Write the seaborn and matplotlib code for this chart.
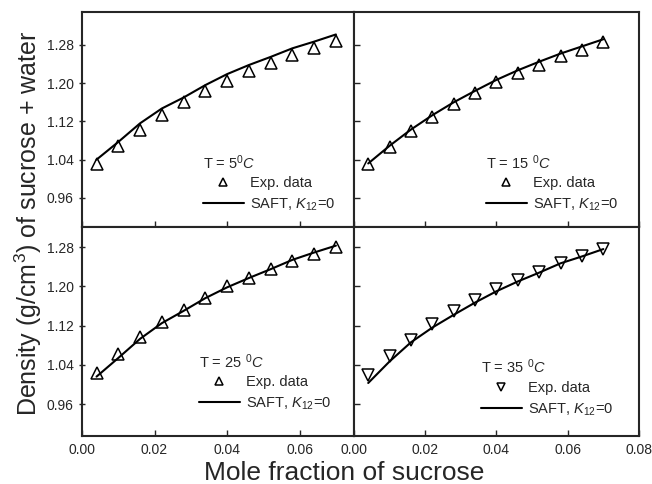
import matplotlib
matplotlib.use('Agg')
import matplotlib.pyplot as plt
import seaborn as sns

# mole fraction of sucrose (same grid in every panel)
x_frac = [0.004, 0.010, 0.016, 0.022, 0.028, 0.034, 0.040, 0.046, 0.052, 0.058, 0.064, 0.070]

# T = 5 C
exp_5 = [1.030, 1.068, 1.103, 1.133, 1.160, 1.184, 1.205, 1.225, 1.243, 1.260, 1.274, 1.289]
saft_5 = [1.040, 1.077, 1.116, 1.147, 1.170, 1.196, 1.219, 1.238, 1.255, 1.273, 1.287, 1.302]
# T = 15 C
exp_15 = [1.030, 1.067, 1.100, 1.130, 1.156, 1.180, 1.203, 1.222, 1.238, 1.256, 1.270, 1.286]
saft_15 = [1.032, 1.069, 1.103, 1.133, 1.160, 1.184, 1.207, 1.227, 1.245, 1.262, 1.277, 1.292]
# T = 25 C
exp_25 = [1.024, 1.063, 1.097, 1.128, 1.152, 1.177, 1.200, 1.218, 1.235, 1.252, 1.266, 1.281]
saft_25 = [1.016, 1.054, 1.093, 1.125, 1.150, 1.176, 1.198, 1.217, 1.235, 1.254, 1.269, 1.283]
# T = 35 C
exp_35 = [1.020, 1.059, 1.091, 1.123, 1.149, 1.173, 1.194, 1.213, 1.230, 1.247, 1.262, 1.276]
saft_35 = [1.003, 1.047, 1.086, 1.116, 1.142, 1.167, 1.190, 1.210, 1.228, 1.247, 1.261, 1.276]

titles = ['T = 5$^0$$\\mathit{C}$', 'T = 15 $^0$$\\mathit{C}$',
          'T = 25 $^0$$\\mathit{C}$', 'T = 35 $^0$$\\mathit{C}$']
y_ticks = [0.96, 1.04, 1.12, 1.20, 1.28]

sns.set_theme(style='ticks')
plt.rcParams['font.family'] = ['Liberation Sans', 'DejaVu Sans']
plt.rcParams['mathtext.fontset'] = 'custom'
plt.rcParams['mathtext.rm'] = 'Liberation Sans'
plt.rcParams['mathtext.it'] = 'Liberation Sans:italic'

fig = plt.figure(figsize=(6.52, 4.84), dpi=100)
ax_tl = fig.add_axes([0.1258, 0.531, 0.4172, 0.4442])
ax_tr = fig.add_axes([0.5429, 0.531, 0.4371, 0.4442])
ax_bl = fig.add_axes([0.1258, 0.0992, 0.4172, 0.4318])
ax_br = fig.add_axes([0.5429, 0.0992, 0.4371, 0.4318])

panels = [
    (ax_tl, exp_5, saft_5, '^', titles[0], (0.445, 0.066)),
    (ax_tr, exp_15, saft_15, '^', titles[1], (0.463, 0.066)),
    (ax_bl, exp_25, saft_25, '^', titles[2], (0.430, 0.115)),
    (ax_br, exp_35, saft_35, 'v', titles[3], (0.446, 0.088)),
]

for ax, exp, saft, mk, title, anchor in panels:
    sns.lineplot(x=x_frac, y=exp, ax=ax, marker=mk, linestyle='none',
                 markersize=8, markerfacecolor='none', markeredgecolor='black',
                 markeredgewidth=1.1, color='black', label='Exp. data')
    sns.lineplot(x=x_frac, y=saft, ax=ax, color='black', linewidth=1.5,
                 label='SAFT, $\\mathit{K}_{12}$=0')
    ax.set_xlabel('')
    ax.set_ylabel('')
    for sp in ax.spines.values():
        sp.set_linewidth(1.5)
        sp.set_visible(True)
    ax.set_yticks(y_ticks)
    leg = ax.legend(title=title, loc='lower left', bbox_to_anchor=anchor, frameon=False,
                    fontsize=10.5, title_fontsize=10.5, alignment='left',
                    handlelength=2.8, handletextpad=0.45, borderpad=0,
                    borderaxespad=0, labelspacing=0.45, markerscale=0.75)
    # tighter gap between the title and the entries
    leg._legend_box.sep = 3

for ax in (ax_tl, ax_bl):
    ax.set_xlim(0, 0.075)
    ax.set_xticks([0.0, 0.02, 0.04, 0.06])
    ax.tick_params(axis='y', direction='inout', length=5, width=1, labelsize=10)
for ax in (ax_tr, ax_br):
    ax.set_xlim(0, 0.08)
    ax.set_xticks([0.0, 0.02, 0.04, 0.06, 0.08])
    ax.tick_params(axis='y', direction='in', length=4, width=1, labelleft=False)
for ax in (ax_tl, ax_tr, ax_bl, ax_br):
    ax.tick_params(axis='x', direction='in', length=4, width=1, labelsize=10, pad=5)
    ax.xaxis.set_major_formatter(matplotlib.ticker.FormatStrFormatter('%.2f'))
    ax.yaxis.set_major_formatter(matplotlib.ticker.FormatStrFormatter('%.2f'))
for ax in (ax_tl, ax_tr):
    ax.set_ylim(0.899, 1.349)
    ax.tick_params(axis='x', labelbottom=False)
for ax in (ax_bl, ax_br):
    ax.set_ylim(0.895, 1.321)

fig.text(0.528, 0.047, 'Mole fraction of sucrose', ha='center', va='top', fontsize=19)
fig.text(0.043, 0.539, 'Density (g/cm$^3$) of sucrose + water', ha='center',
         va='center', rotation=90, fontsize=18)

fig.savefig('out.png', dpi=100)
